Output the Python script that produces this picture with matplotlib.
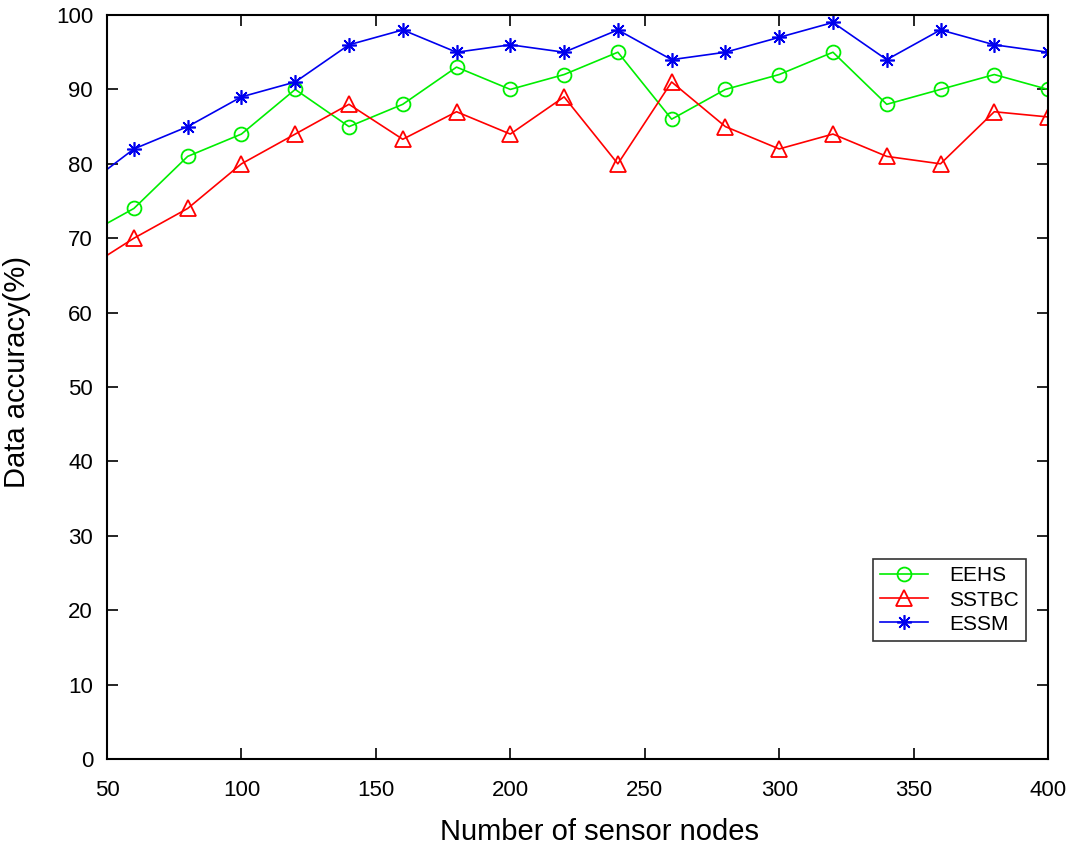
import matplotlib
matplotlib.use("Agg")
import matplotlib.pyplot as plt

plt.rcParams['font.family'] = ['Liberation Sans', 'DejaVu Sans']

nodes = [40, 60, 80, 100, 120, 140, 160, 180, 200, 220, 240, 260, 280, 300, 320, 340, 360, 380, 400]
eehs  = [70, 74, 81, 84, 90, 85, 88, 93, 90, 92, 95, 86, 90, 92, 95, 88, 90, 92, 90]
sstbc = [65.4, 70, 74, 80, 84, 88, 83.3, 87, 84, 89, 80, 91, 85, 82, 84, 81, 80, 87, 86.3]
essm  = [76.5, 82, 85, 89, 91, 96, 98, 95, 96, 95, 98, 94, 95, 97, 99, 94, 98, 96, 95]

fig = plt.figure(figsize=(10.69, 8.49), dpi=100)
ax = fig.add_axes([0.1001, 0.106, 0.8803, 0.8763])

ax.plot(nodes, eehs, color='#00ee00', lw=1.2, marker='o', ms=10, mfc='none',
        mew=1.3, label='EEHS')
ax.plot(nodes, sstbc, color='#ff0000', lw=1.2, marker='^', ms=11.5, mfc='none',
        mew=1.3, label='SSTBC')
ax.plot(nodes, essm, color='#0000ee', lw=1.2, marker=(8, 2, 0), ms=10.5,
        mew=1.2, label='ESSM')

ax.set_xlim(50, 400)
ax.set_ylim(0, 100)
ax.set_xticks(range(50, 401, 50))
ax.set_yticks(range(0, 101, 10))
ax.tick_params(direction='in', length=8, width=1.2, top=True, right=True,
               labelsize=16)
ax.tick_params(axis='x', pad=15)
ax.tick_params(axis='y', pad=10)
for s in ax.spines.values():
    s.set_linewidth(1.5)

ax.set_xlabel('Number of sensor nodes', fontsize=21, labelpad=12)
ax.set_ylabel('Data accuracy(%)', fontsize=21, labelpad=18)
ax.xaxis.label.set_x(0.523)
ax.yaxis.label.set_y(0.52)

leg = ax.legend(loc='lower right', bbox_to_anchor=(0.9766, 0.1586), fontsize=15,
                frameon=True, fancybox=False, edgecolor='black', handlelength=2.3,
                borderpad=0.35, labelspacing=0.25, handletextpad=1.0, borderaxespad=0)
leg.get_frame().set_linewidth(1.2)

fig.savefig('out.png', dpi=100)
